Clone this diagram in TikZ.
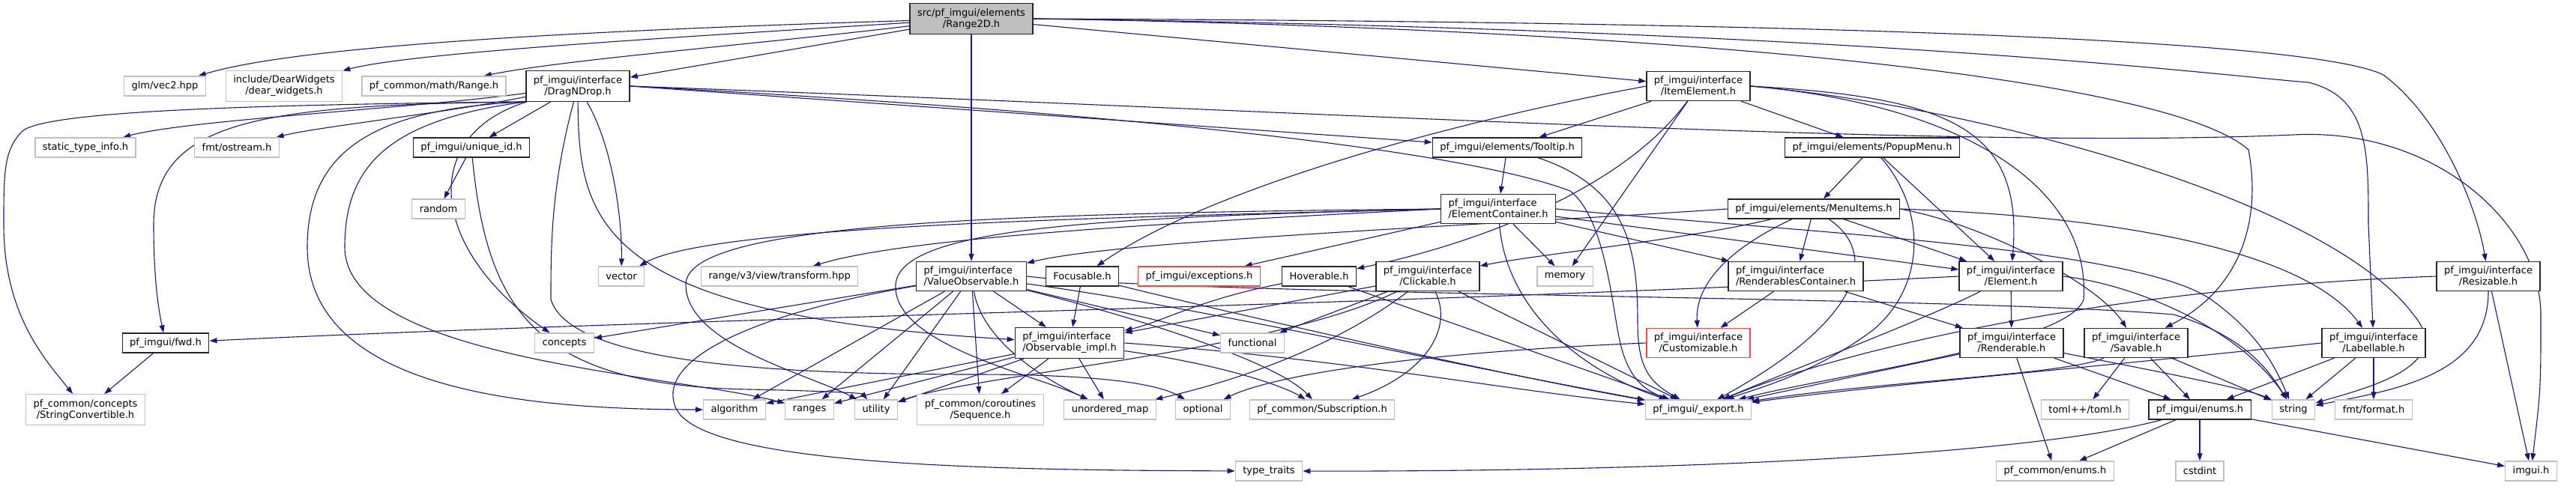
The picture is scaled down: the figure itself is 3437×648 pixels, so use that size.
\documentclass[tikz,border=0pt]{standalone}
\usepackage{fontspec}
\setmainfont{DejaVu Sans}
\usetikzlibrary{arrows.meta,backgrounds}
\definecolor{edge}{HTML}{191970}
\definecolor{frame}{HTML}{262626}
\definecolor{grey75}{HTML}{BFBFBF}
\definecolor{trunc}{HTML}{FF4040}

\begin{document}
\begin{tikzpicture}[x=1pt,y=1pt,
  box/.style={fill=white,line width=1.3pt,font=\fontsize{13}{15}\selectfont,align=center,
              inner xsep=10pt,inner ysep=6.5pt,minimum height=26pt},
  doc/.style={box,draw=frame},
  ext/.style={box,draw=grey75},
  trc/.style={box,draw=trunc},
  rootbox/.style={box,draw=frame,fill=grey75},
  dep/.style={draw=edge,line width=1.1pt,-{Triangle[length=10pt,width=7pt]}}
]
\useasboundingbox (0,0) rectangle (3437,-648);
\node[rootbox] (root) at (1296,-25) {src/pf\_imgui/elements\\/Range2D.h};
\node[ext] (glm) at (220,-115) {glm/vec2.hpp};
\node[ext] (dearw) at (379,-115) {include/DearWidgets\\/dear\_widgets.h};
\node[ext] (rangeh) at (579,-115) {pf\_common/math/Range.h};
\node[doc] (dnd) at (771,-115) {pf\_imgui/interface\\/DragNDrop.h};
\node[doc] (itemel) at (2266,-115) {pf\_imgui/interface\\/ItemElement.h};
\node[ext] (stinfo) at (114,-197) {static\_type\_info.h};
\node[ext] (ostream) at (316,-197) {fmt/ostream.h};
\node[doc] (uniqid) at (629,-197) {pf\_imgui/unique\_id.h};
\node[doc] (tooltip) at (2011,-197) {pf\_imgui/elements/Tooltip.h};
\node[doc] (popup) at (2498,-197) {pf\_imgui/elements/PopupMenu.h};
\node[ext] (random) at (585,-279) {random};
\node[doc,align=left] (elcont) at (1999,-279) {pf\_imgui/interface\\/ElementContainer.h};
\node[doc] (menuit) at (2420,-279) {pf\_imgui/elements/MenuItems.h};
\node[ext] (vector) at (829,-369) {vector};
\node[ext] (rv3) at (1040,-369) {range/v3/view/transform.hpp};
\node[doc,align=left] (valobs) at (1296,-369) {pf\_imgui/interface\\/ValueObservable.h};
\node[doc] (focus) at (1444,-369) {Focusable.h};
\node[trc] (except) at (1600,-369) {pf\_imgui/exceptions.h};
\node[doc] (hover) at (1760,-369) {Hoverable.h};
\node[doc] (click) at (1905,-369) {pf\_imgui/interface\\/Clickable.h};
\node[ext] (memory) at (2088,-369) {memory};
\node[doc,align=left] (rendcont) at (2396,-369) {pf\_imgui/interface\\/RenderablesContainer.h};
\node[doc] (element) at (2683,-369) {pf\_imgui/interface\\/Element.h};
\node[doc] (resiz) at (3320,-369) {pf\_imgui/interface\\/Resizable.h};
\node[doc] (fwd) at (221,-458) {pf\_imgui/fwd.h};
\node[ext] (concepts) at (753,-458) {concepts};
\node[doc,align=left] (obsimpl) at (1427,-458) {pf\_imgui/interface\\/Observable\_impl.h};
\node[ext] (functional) at (1671,-458) {functional};
\node[trc] (custom) at (2266,-458) {pf\_imgui/interface\\/Customizable.h};
\node[doc] (render) at (2684,-458) {pf\_imgui/interface\\/Renderable.h};
\node[doc] (savab) at (2850,-458) {pf\_imgui/interface\\/Savable.h};
\node[doc] (label) at (3167,-458) {pf\_imgui/interface\\/Labellable.h};
\node[ext] (strconv) at (114,-547) {pf\_common/concepts\\/StringConvertible.h};
\node[ext] (algo) at (980,-547) {algorithm};
\node[ext] (ranges) at (1080,-547) {ranges};
\node[ext] (utility) at (1169,-547) {utility};
\node[ext] (seq) at (1308,-547) {pf\_common/coroutines\\/Sequence.h};
\node[ext] (umap) at (1481,-547) {unordered\_map};
\node[ext] (optional) at (1605,-547) {optional};
\node[ext] (subscr) at (1764,-547) {pf\_common/Subscription.h};
\node[ext] (export) at (2266,-547) {pf\_imgui/\_export.h};
\node[ext] (toml) at (2782,-547) {toml++/toml.h};
\node[doc] (enums) at (2935,-547) {pf\_imgui/enums.h};
\node[ext] (string) at (3060,-547) {string};
\node[ext] (format) at (3167,-547) {fmt/format.h};
\node[ext] (typetr) at (1693,-629) {type\_traits};
\node[ext] (cenums) at (2742,-629) {pf\_common/enums.h};
\node[ext] (cstdint) at (2935,-629) {cstdint};
\node[ext] (imgui) at (3377,-629) {imgui.h};

\begin{scope}[on background layer]
\fill[white] (0,0) rectangle (3437,-648);
\draw[dep] (root) .. controls (800,-40) and (400,-60) .. (glm);
\draw[dep] (root) .. controls (900,-50) and (550,-70) .. (dearw);
\draw[dep] (root) .. controls (1000,-60) and (750,-80) .. (rangeh);
\draw[dep] (root) -- (dnd);
\draw[dep] (root) -- (valobs);
\draw[dep] (root) -- (itemel);
\draw[dep] (root.east) .. controls (2300,-40) and (2900,-110) .. (3000,-200) .. controls (3015,-280) and (3000,-380) .. (savab);
\draw[dep] (root.east) .. controls (2500,-40) and (2950,-100) .. (3080,-110) .. controls (3160,-130) and (3160,-200) .. (3160,-300) -- (label);
\draw[dep] (root.east) .. controls (2600,-30) and (3100,-60) .. (3180,-100) .. controls (3260,-160) and (3305,-280) .. (resiz);

\draw[dep] (dnd) .. controls (550,-145) and (250,-160) .. (stinfo);
\draw[dep] (dnd) .. controls (600,-150) and (420,-170) .. (ostream);
\draw[dep] (dnd) -- (uniqid);
\draw[dep] (dnd) .. controls (820,-200) and (830,-300) .. (vector);
\draw[dep] (dnd.south west) .. controls (350,-140) and (205,-160) .. (205,-300) .. controls (205,-380) and (213,-420) .. (fwd);
\draw[dep] (dnd.south west) .. controls (300,-140) and (60,-150) .. (30,-175) .. controls (5,-200) and (5,-230) .. (5,-300) .. controls (5,-420) and (60,-480) .. (strconv);
\draw[dep] (dnd.south west) .. controls (500,-145) and (410,-200) .. (410,-330) .. controls (410,-520) and (700,-547) .. (algo);
\draw[dep] (dnd.south west) .. controls (520,-160) and (460,-220) .. (460,-330) .. controls (460,-480) and (900,-500) .. (ranges);
\draw[dep] (dnd) .. controls (560,-180) and (570,-330) .. (concepts);
\draw[dep] (dnd) .. controls (735,-250) and (735,-330) .. (735,-400) .. controls (760,-480) and (1000,-500) .. (1300,-500) .. controls (1450,-500) and (1540,-510) .. (optional);
\draw[dep] (dnd) .. controls (772,-300) and (800,-420) .. (obsimpl);
\draw[dep] (dnd.east) -- (tooltip);
\draw[dep] (dnd.east) .. controls (1800,-150) and (2600,-200) .. (3060,-180) .. controls (3250,-170) and (3390,-300) .. (3390,-420) .. controls (3390,-520) .. (imgui);
\draw[dep] (dnd.east) .. controls (1500,-150) and (1950,-200) .. (2095,-255) .. controls (2140,-290) and (2150,-400) .. (2160,-450) .. controls (2170,-500) and (2190,-520) .. (export);

\draw[dep] (uniqid) -- (random);
\draw[dep] (uniqid) .. controls (650,-420) and (720,-515) .. (1000,-520) .. controls (1100,-522) and (1150,-525) .. (utility);
\draw[dep] (fwd) -- (strconv);

\draw[dep] (itemel) -- (tooltip);
\draw[dep] (itemel) -- (popup);
\draw[dep] (itemel.west) .. controls (1900,-170) and (1600,-260) .. (focus);
\draw[dep] (itemel) .. controls (2160,-260) and (1950,-330) .. (hover);
\draw[dep] (itemel) -- (memory);
\draw[dep] (itemel.east) .. controls (2600,-130) and (2700,-170) .. (element);
\draw[dep] (itemel.east) .. controls (2620,-140) and (2790,-250) .. (2780,-400) .. controls (2760,-460) and (2450,-500) .. (export);
\draw[dep] (itemel.east) .. controls (2620,-140) and (3100,-260) .. (3220,-420) .. controls (3280,-490) and (3150,-520) .. (string);

\draw[dep] (tooltip) -- (elcont);
\draw[dep] (tooltip) .. controls (2170,-250) and (2185,-330) .. (2185,-430) .. controls (2185,-490) and (2200,-510) .. (export);
\draw[dep] (popup) -- (menuit);
\draw[dep] (popup) -- (element);
\draw[dep] (popup) .. controls (2570,-280) and (2570,-380) .. (2500,-440) .. controls (2420,-500) and (2340,-520) .. (export);

\draw[dep] (elcont.west) .. controls (1500,-290) and (950,-300) .. (vector);
\draw[dep] (elcont.west) .. controls (1500,-300) and (1200,-320) .. (rv3);
\draw[dep] (elcont.west) .. controls (1300,-285) and (915,-300) .. (915,-380) .. controls (915,-460) and (1080,-500) .. (utility);
\draw[dep] (elcont.west) .. controls (1500,-290) and (1200,-300) .. (1195,-380) .. controls (1190,-460) and (1380,-500) .. (umap);
\draw[dep] (elcont) -- (memory);
\draw[dep] (elcont) -- (except);
\draw[dep] (elcont) -- (rendcont);
\draw[dep] (elcont) -- (element);
\draw[dep] (elcont.east) .. controls (2400,-310) and (2850,-330) .. (2950,-400) .. controls (3020,-450) and (3040,-500) .. (string);
\draw[dep] (elcont) .. controls (2010,-420) and (2120,-500) .. (export);

\draw[dep] (menuit.west) .. controls (2000,-300) and (1500,-320) .. (valobs);
\draw[dep] (menuit) .. controls (2250,-320) and (2050,-340) .. (click);
\draw[dep] (menuit) .. controls (2290,-340) and (2262,-390) .. (custom);
\draw[dep] (menuit) -- (rendcont);
\draw[dep] (menuit) -- (element);
\draw[dep] (menuit) .. controls (2510,-340) and (2480,-430) .. (export);
\draw[dep] (menuit.east) .. controls (2650,-300) and (2800,-380) .. (savab);
\draw[dep] (menuit.east) .. controls (2850,-290) and (3080,-340) .. (label);

\draw[dep] (valobs) -- (concepts);
\draw[dep] (valobs) .. controls (1000,-420) and (880,-480) .. (900,-540) .. controls (920,-620) and (1300,-628) .. (typetr);
\draw[dep] (valobs) -- (algo);
\draw[dep] (valobs) -- (ranges);
\draw[dep] (valobs) -- (utility);
\draw[dep] (valobs) -- (seq);
\draw[dep] (valobs) .. controls (1310,-450) and (1380,-500) .. (umap);
\draw[dep] (valobs) -- (obsimpl);
\draw[dep] (valobs) -- (functional);
\draw[dep] (valobs) .. controls (1500,-420) and (1700,-480) .. (subscr);
\draw[dep] (valobs) .. controls (1600,-410) and (1900,-480) .. (export);
\draw[dep] (valobs.east) .. controls (1600,-395) and (2600,-395) .. (2900,-420) .. controls (3000,-450) and (3030,-500) .. (string);

\draw[dep] (obsimpl) -- (algo);
\draw[dep] (obsimpl) -- (ranges);
\draw[dep] (obsimpl) -- (utility);
\draw[dep] (obsimpl) -- (seq);
\draw[dep] (obsimpl) -- (umap);
\draw[dep] (obsimpl) .. controls (1650,-490) and (1720,-520) .. (subscr);
\draw[dep] (obsimpl.east) .. controls (1800,-480) and (2000,-520) .. (export);

\draw[dep] (focus) -- (obsimpl);
\draw[dep] (focus) .. controls (1650,-420) and (2000,-500) .. (export);
\draw[dep] (hover) .. controls (1600,-400) and (1550,-430) .. (obsimpl);
\draw[dep] (hover) -- (export);
\draw[dep] (click) -- (obsimpl);
\draw[dep] (click) -- (functional);
\draw[dep] (click) .. controls (1700,-470) and (1300,-500) .. (utility);
\draw[dep] (click) .. controls (1760,-480) and (1600,-520) .. (umap);
\draw[dep] (click) .. controls (1940,-440) and (1900,-500) .. (subscr);
\draw[dep] (click) -- (export);
\draw[dep] (custom.west) .. controls (1900,-470) and (1700,-500) .. (optional);
\draw[dep] (rendcont) -- (custom);
\draw[dep] (rendcont) -- (render);

\draw[dep] (element.west) .. controls (1800,-410) and (900,-425) .. (fwd);
\draw[dep] (element) -- (render);
\draw[dep] (element) .. controls (2560,-430) and (2400,-490) .. (export);
\draw[dep] (element.east) .. controls (2850,-380) and (2990,-440) .. (string);
\draw[dep] (render) -- (export);
\draw[dep] (render) -- (enums);
\draw[dep] (render) .. controls (2900,-500) and (3000,-520) .. (string);
\draw[dep] (render) -- (cenums);
\draw[dep] (savab) -- (toml);
\draw[dep] (savab) -- (enums);
\draw[dep] (savab) -- (string);
\draw[dep] (savab) .. controls (2760,-500) and (2500,-510) .. (export);
\draw[dep] (label) -- (enums);
\draw[dep] (label) -- (string);
\draw[dep] (label) -- (format);
\draw[dep] (label.west) .. controls (2800,-490) and (2500,-515) .. (export);
\draw[dep] (resiz.west) .. controls (2800,-385) and (2450,-470) .. (export);
\draw[dep] (resiz) .. controls (3320,-500) and (3200,-520) .. (string);
\draw[dep] (resiz) -- (imgui);
\draw[dep] (enums) -- (cenums);
\draw[dep] (enums) -- (cstdint);
\draw[dep] (enums) -- (imgui);
\draw[dep] (enums) .. controls (2700,-610) and (2200,-630) .. (typetr);
\end{scope}
\end{tikzpicture}
\end{document}
